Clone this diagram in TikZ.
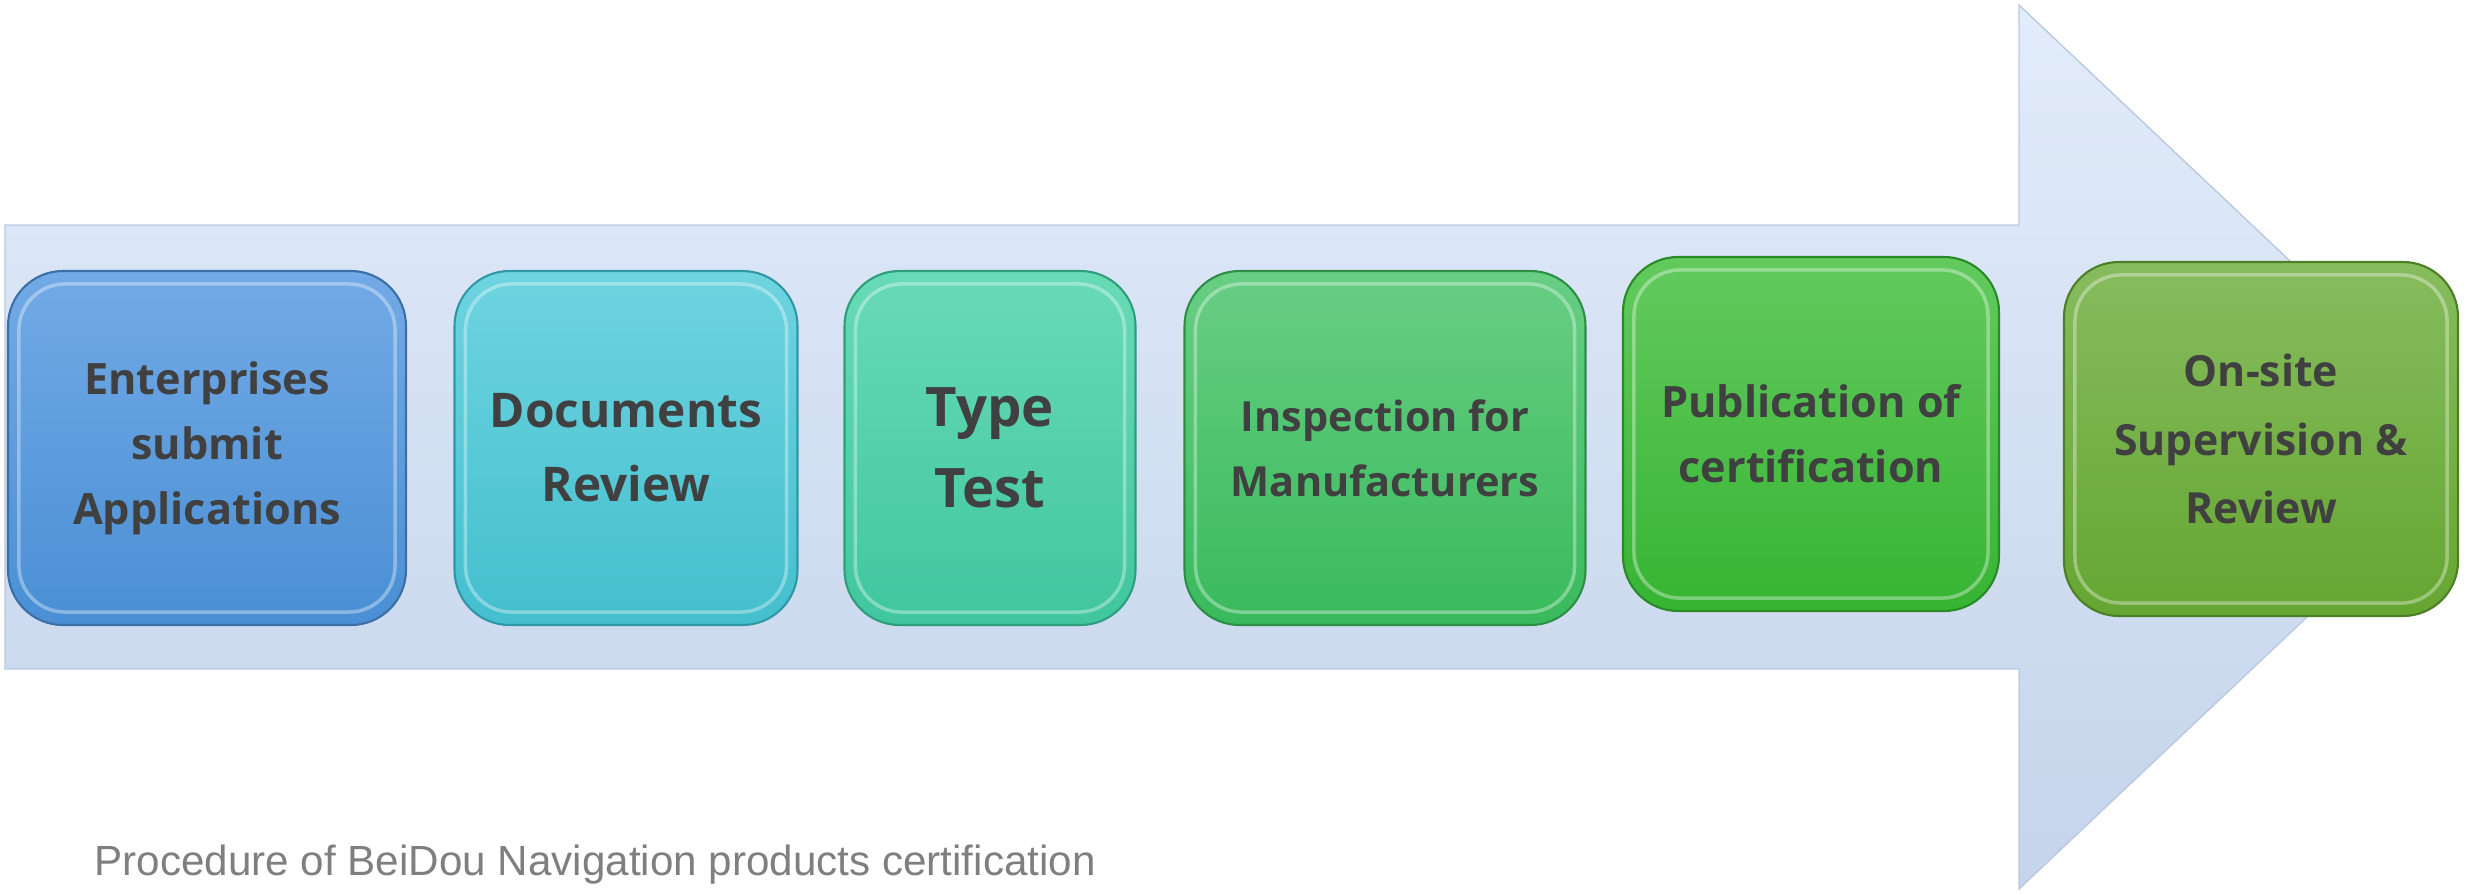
\documentclass[tikz,border=0pt]{standalone}
\usepackage{fontspec}
\usepackage{tikz}
\newfontfamily\stagefont{Open Sans}
\newfontfamily\notefont{Liberation Sans}
\definecolor{arrowtop}{HTML}{E2ECFA}
\definecolor{arrowbot}{HTML}{C5D4EB}
\definecolor{arrowline}{HTML}{BAC9DE}
\definecolor{stagetext}{HTML}{404040}
\definecolor{notegray}{HTML}{7F7F7F}
\definecolor{blueA}{HTML}{72AAE6}\definecolor{blueB}{HTML}{4A8FD4}\definecolor{blueC}{HTML}{3C6FA6}
\definecolor{cyanA}{HTML}{6ED4E0}\definecolor{cyanB}{HTML}{44BFCE}\definecolor{cyanC}{HTML}{2F97A5}
\definecolor{tealA}{HTML}{68DBB6}\definecolor{tealB}{HTML}{40C69E}\definecolor{tealC}{HTML}{2E9E7C}
\definecolor{grnA}{HTML}{68CE84}\definecolor{grnB}{HTML}{39BA5C}\definecolor{grnC}{HTML}{2C8F45}
\definecolor{limeA}{HTML}{63CA5E}\definecolor{limeB}{HTML}{37B433}\definecolor{limeC}{HTML}{2A8A27}
\definecolor{oliveA}{HTML}{87BC5E}\definecolor{oliveB}{HTML}{65A632}\definecolor{oliveC}{HTML}{4D7F27}
\tikzset{
  stage/.style n args={3}{top color=#1, bottom color=#2, draw=#3, line width=0.6pt,
    rounded corners=5.5mm, align=center, text=stagetext, inner sep=0pt,
    minimum height=35.4mm},
  stagefont/.style 2 args={font=\stagefont\bfseries\fontsize{#1}{#2}\selectfont}
}
\begin{document}
\begin{tikzpicture}[x=0.1mm,y=-0.1mm]
\useasboundingbox (0,0) rectangle (2468,893);
\draw[top color=arrowtop,bottom color=arrowbot,draw=arrowline,line width=0.4pt]
  (5,225) -- (2019,225) -- (2019,5) -- (2450,412) -- (2450,482) -- (2019,889) -- (2019,669) -- (5,669) -- cycle;
\node[stage={blueA}{blueB}{blueC}, minimum width=39.8mm, stagefont={12.3}{18.5}] (apply) at (207,448) {Enterprises\\submit\\Applications};
\node[stage={cyanA}{cyanB}{cyanC}, minimum width=34.3mm, stagefont={13.6}{21}] (docs) at (626,448) {Documents\\Review};
\node[stage={tealA}{tealB}{tealC}, minimum width=29.1mm, stagefont={15.5}{23}] (typetest) at (990,448) {Type\\Test};
\node[stage={grnA}{grnB}{grnC}, minimum width=40.1mm, stagefont={11.8}{18.5}] (inspect) at (1385,448) {Inspection for\\Manufacturers};
\node[stage={limeA}{limeB}{limeC}, minimum width=37.6mm, stagefont={12.3}{18.5}] (publish) at (1811,434) {Publication of\\certification};
\node[stage={oliveA}{oliveB}{oliveC}, minimum width=39.4mm, stagefont={12.2}{19.5}] (onsite) at (2261,439) {On-site\\Supervision \&\\Review};
\foreach \n in {apply,docs,typetest,inspect,publish,onsite}
  \draw[white,opacity=0.35,line width=1pt,rounded corners=4.6mm]
    ([shift={(12,14)}]\n.north west) rectangle ([shift={(-12,-14)}]\n.south east);
\node[font=\notefont\fontsize{12}{14}\selectfont, text=notegray, anchor=base west, inner sep=0pt] (note) at (94,875) {Procedure of BeiDou Navigation products certification};
\end{tikzpicture}
\end{document}
